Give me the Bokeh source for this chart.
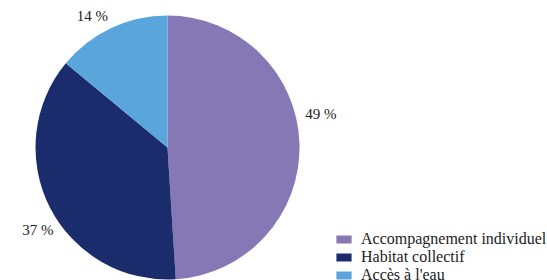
import math
from bokeh.plotting import figure
from bokeh.models import Range1d, Legend, LegendItem
from bokeh.core.properties import value
from bokeh.embed import file_html
from bokeh.resources import INLINE

categories = ["Accompagnement individuel", "Habitat collectif", "Accès à l'eau"]
shares = [49, 37, 14]
colors = ["#8677B5", "#1A2C6B", "#5AA5DB"]
labels = ["49 %", "37 %", "14 %"]

FONT = "Liberation Serif"

W, H = 547, 280
p = figure(width=W, height=H, output_backend="svg", toolbar_location=None,
           x_range=Range1d(0, W), y_range=Range1d(0, H), min_border=0)
p.axis.visible = False
p.grid.visible = False
p.outline_line_color = None

cx, cy, r = 167, 133, 132
total = sum(shares)
starts, ends, mids = [], [], []
a = math.pi / 2
for s in shares:
    d = s / total * 2 * math.pi
    starts.append(a)
    ends.append(a - d)
    mids.append(a - d / 2)
    a -= d

renderers = []
for i in range(len(shares)):
    rr = p.wedge(x=cx, y=cy, radius=r, radius_units="screen",
                 start_angle=starts[i], end_angle=ends[i], direction="clock",
                 fill_color=colors[i], line_color=colors[i], line_width=0)
    renderers.append(rr)

# label placement: mid-angle with small nudges (style)
nudge_deg = [10.7, 5.6, 4.6]
label_r = [157, 154, 151]
lang = [m + math.radians(n) for m, n in zip(mids, nudge_deg)]
lx = [cx + rl * math.cos(t) for rl, t in zip(label_r, lang)]
ly = [cy + rl * math.sin(t) for rl, t in zip(label_r, lang)]
p.text(x=lx, y=ly, text=labels, text_align="center", text_baseline="middle",
       text_font=value(FONT), text_font_size="15px", text_color="#222222")

legend = Legend(items=[LegendItem(label=categories[i], renderers=[renderers[i]]) for i in range(3)],
                location=(334, -4), orientation="vertical",
                glyph_width=19, glyph_height=10, label_standoff=8,
                label_height=18, spacing=0, padding=0, margin=0,
                label_text_font=FONT, label_text_font_size="16px",
                label_text_line_height=1.0,
                label_text_color="#222222", border_line_color=None,
                background_fill_alpha=0)
p.add_layout(legend)

open("out.html", "w").write(file_html(p, INLINE))
